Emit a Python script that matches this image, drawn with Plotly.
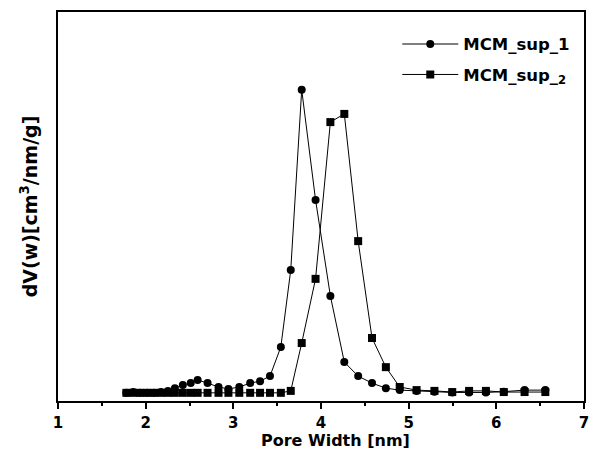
import plotly.graph_objects as go

# Pore width grid (nm), shared by both samples
pore_width = [1.780, 1.859, 1.938, 2.017, 2.096, 2.175, 2.254, 2.333, 2.424, 2.514,
              2.593, 2.706, 2.831, 2.944, 3.068, 3.192, 3.305, 3.418, 3.542, 3.655,
              3.780, 3.938, 4.107, 4.266, 4.424, 4.582, 4.740, 4.898, 5.090, 5.294,
              5.497, 5.689, 5.881, 6.085, 6.322, 6.559]

# dV(w) in arbitrary units (axis has no tick labels)
mcm_sup_1 = [0.021, 0.023, 0.021, 0.021, 0.021, 0.023, 0.026, 0.033, 0.041, 0.046,
             0.054, 0.046, 0.036, 0.031, 0.036, 0.046, 0.051, 0.064, 0.139, 0.337,
             0.800, 0.517, 0.270, 0.100, 0.064, 0.046, 0.033, 0.028, 0.026, 0.024,
             0.022, 0.022, 0.022, 0.024, 0.028, 0.028]
mcm_sup_2 = [0.021, 0.021, 0.021, 0.021, 0.021, 0.021, 0.021, 0.021, 0.021, 0.021,
             0.021, 0.021, 0.021, 0.021, 0.021, 0.021, 0.021, 0.021, 0.021, 0.026,
             0.149, 0.314, 0.717, 0.738, 0.411, 0.162, 0.087, 0.036, 0.028, 0.026,
             0.023, 0.026, 0.026, 0.023, 0.023, 0.023]

x_ticks = [1, 2, 3, 4, 5, 6, 7]
series_names = ["MCM_sup_1", "MCM_sup_<sub>2</sub>"]
x_title = "Pore Width [nm]"
y_title = "dV(w)[cm<sup>3</sup>/nm/g]"

FONT = "DejaVu Sans, Arial, sans-serif"

fig = go.Figure()
fig.add_trace(go.Scatter(
    x=pore_width, y=mcm_sup_1, name=series_names[0], mode="lines+markers",
    legendgroup="g1",
    line=dict(color="black", width=1),
    marker=dict(symbol="circle", size=8, color="black"),
))
fig.add_trace(go.Scatter(
    x=pore_width, y=mcm_sup_2, name=series_names[1], mode="lines+markers",
    legendgroup="g2",
    line=dict(color="black", width=1),
    marker=dict(symbol="square", size=8, color="black"),
))

fig.update_layout(
    width=595, height=452,
    margin=dict(l=58, r=6, t=12, b=51),
    paper_bgcolor="white", plot_bgcolor="white",
    font=dict(family=FONT, color="black"),
    showlegend=True,
    legend=dict(
        x=0.645, y=0.962, xanchor="left", yanchor="top",
        bgcolor="rgba(0,0,0,0)", borderwidth=0,
        font=dict(family=FONT, size=16.5, color="black", weight="bold"),
        itemwidth=56, tracegroupgap=6,
    ),
    xaxis=dict(
        range=[1, 7], tickvals=x_ticks, ticktext=[str(v) for v in x_ticks],
        showgrid=False, zeroline=False,
        showline=True, linecolor="black", linewidth=1.5, mirror=True,
        ticks="outside", ticklen=6, tickwidth=1.5, tickcolor="black",
        minor=dict(dtick=0.5, ticks="outside", ticklen=3, tickwidth=1.5, tickcolor="black"),
        tickfont=dict(family=FONT, size=15, color="black", weight="bold"),
        ticklabelstandoff=1,
    ),
    yaxis=dict(
        range=[0, 1.0], showticklabels=False, ticks="",
        showgrid=False, zeroline=False,
        showline=True, linecolor="black", linewidth=1.5, mirror=True,
        title=dict(text=y_title, standoff=14,
                   font=dict(family=FONT, size=19, color="black", weight="bold")),
    ),
    annotations=[dict(
        text=x_title, xref="paper", yref="paper", x=0.527, y=-0.101,
        xanchor="center", yanchor="middle", showarrow=False,
        font=dict(family=FONT, size=16, color="black", weight="bold"),
    )],
)

fig.write_html("out.html")
